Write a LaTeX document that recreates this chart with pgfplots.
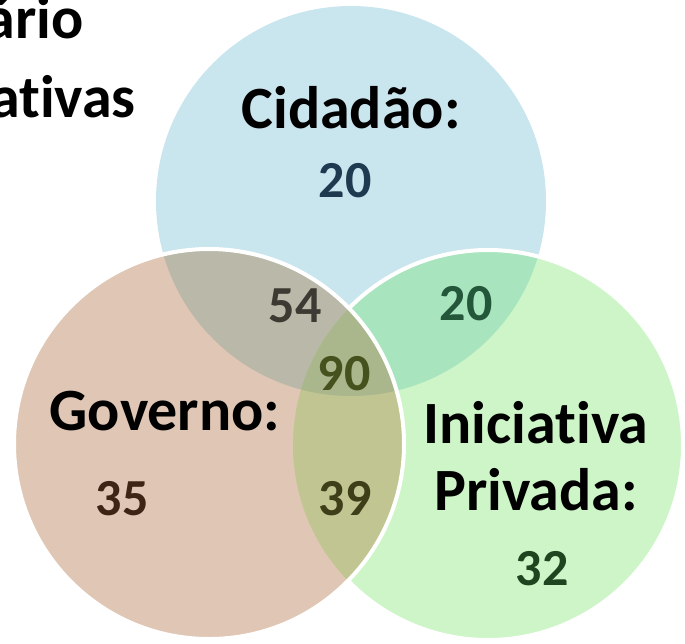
\documentclass[border=0pt]{standalone}
\usepackage{fontspec}
\setmainfont{Carlito}[Ligatures=NoCommon]
\usepackage{pgfplots}
\pgfplotsset{compat=1.18}

% region colours
\definecolor{cblue}{HTML}{C9E5EE}
\definecolor{corange}{HTML}{E0C6B4}
\definecolor{cgreen}{HTML}{CEF5C8}
\definecolor{cbo}{HTML}{BAB8A8}
\definecolor{cbg}{HTML}{A8E4BE}
\definecolor{cog}{HTML}{C0C591}
\definecolor{call}{HTML}{AAB78C}
% number colours
\definecolor{nblue}{HTML}{1E3A50}
\definecolor{nbo}{HTML}{3C3A32}
\definecolor{nbg}{HTML}{24563A}
\definecolor{nall}{HTML}{46521E}
\definecolor{norange}{HTML}{3E2414}
\definecolor{nog}{HTML}{3E3E18}
\definecolor{ngreen}{HTML}{1E4420}

\newcommand{\lbl}{\fontsize{60}{62}\selectfont\bfseries}
\newcommand{\num}{\fontsize{52}{54}\selectfont\bfseries}

\pgfplotsset{
  count/.style={draw=none, no marks, point meta=explicit symbolic,
    nodes near coords={\num\pgfplotspointmeta},
    nodes near coords style={anchor=base, inner sep=0pt, text=#1}},
}

\begin{document}
\begin{tikzpicture}
\useasboundingbox (0,0) rectangle (685pt,643pt);
\clip (0,0) rectangle (685pt,643pt);
\begin{axis}[
    at={(0pt,643pt)}, anchor=origin,
    scale only axis, width=685pt, height=643pt,
    xmin=0, xmax=685, ymin=0, ymax=643, y dir=reverse,
    hide axis, clip=false
]
% circles: Cidadao (351,201), Governo (209,444), Iniciativa Privada (488,445), r=195
\fill[cblue] (axis cs:351,201) circle[radius=195pt];
\fill[cgreen] (axis cs:488,445) circle[radius=195pt];
\begin{scope}
  \clip (axis cs:351,201) circle[radius=195pt];
  \fill[cbg] (axis cs:488,445) circle[radius=195pt];
\end{scope}
\draw[white, line width=4pt] (axis cs:488,445) circle[radius=195pt];
\fill[corange] (axis cs:209,444) circle[radius=195pt];
\begin{scope}
  \clip (axis cs:209,444) circle[radius=195pt];
  \fill[cbo] (axis cs:351,201) circle[radius=195pt];
  \fill[cog] (axis cs:488,445) circle[radius=195pt];
  \clip (axis cs:351,201) circle[radius=195pt];
  \fill[call] (axis cs:488,445) circle[radius=195pt];
\end{scope}
\draw[white, line width=4pt] (axis cs:209,444) circle[radius=195pt];

% title fragments (cut off at the left edge)
\node[anchor=base east, inner sep=0pt] at (axis cs:84,38) {\lbl ário};
\node[anchor=base east, inner sep=0pt] at (axis cs:136,117) {\lbl ativas};

% set names
\node[anchor=base, inner sep=0pt] at (axis cs:351,128) {\lbl Cidadão:};
\node[anchor=base, inner sep=0pt] at (axis cs:165,430) {\lbl Governo:};
\node[anchor=base, inner sep=0pt] at (axis cs:536,443) {\lbl Iniciativa};
\node[anchor=base, inner sep=0pt] at (axis cs:536,510) {\lbl Privada:};

% counts
\addplot[count=nblue] coordinates {(345,197) [20]};
\addplot[count=nbo] coordinates {(295,322) [54]};
\addplot[count=nbg] coordinates {(466,320) [20]};
\addplot[count=nall] coordinates {(344,390) [90]};
\addplot[count=norange] coordinates {(122,515) [35]};
\addplot[count=nog] coordinates {(345,515) [39]};
\addplot[count=ngreen] coordinates {(542,585) [32]};
\end{axis}
\end{tikzpicture}
\end{document}
